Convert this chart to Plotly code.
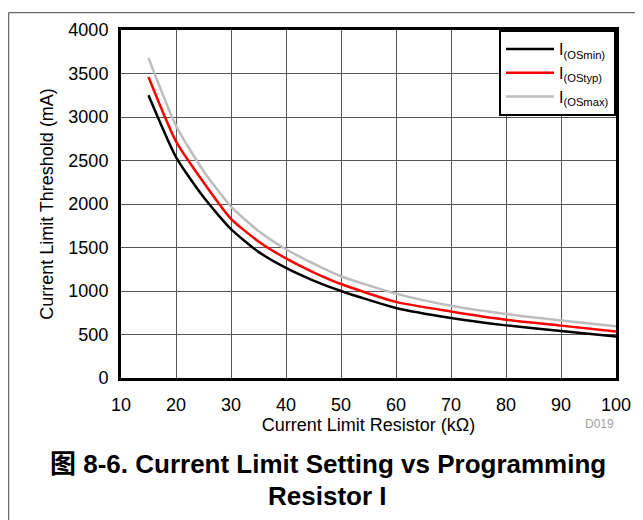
import plotly.graph_objects as go

# Data
resistor_k = [15, 20, 25, 30, 35, 40, 45, 50, 60, 70, 80, 90, 100]
i_os_min = [3250, 2540, 2080, 1710, 1450, 1265, 1120, 1000, 805, 690, 605, 540, 478]
i_os_typ = [3460, 2720, 2250, 1830, 1570, 1375, 1215, 1080, 875, 765, 670, 602, 534]
i_os_max = [3680, 2900, 2380, 1970, 1690, 1480, 1315, 1170, 970, 830, 735, 660, 594]

series_names = ["I<sub>(OSmin)</sub>", "I<sub>(OStyp)</sub>", "I<sub>(OSmax)</sub>"]
series_colors = ["#000000", "#ff0000", "#bdbdbd"]
x_ticks = [10, 20, 30, 40, 50, 60, 70, 80, 90, 100]
y_ticks = [0, 500, 1000, 1500, 2000, 2500, 3000, 3500, 4000]

# the page adds an 8px body margin, so the figure is sized to fit the window
W, H = 635, 512
ML, MR, MT, MB = 113, 26, 18, 142
PW, PH = W - ML - MR, H - MT - MB

def px_x(p):
    return (p - ML) / PW

def px_y(p):
    return (H - MB - p) / PH

FONT = "Liberation Sans, Arial, sans-serif"

fig = go.Figure()
for vals, name, col in zip([i_os_min, i_os_typ, i_os_max], series_names, series_colors):
    fig.add_trace(go.Scatter(
        x=resistor_k, y=vals, name=name, mode="lines",
        line=dict(color=col, width=2.5, shape="spline", smoothing=0.6),
    ))

fig.update_layout(
    width=W, height=H,
    margin=dict(l=ML, r=MR, t=MT, b=MB),
    paper_bgcolor="white", plot_bgcolor="white",
    font=dict(family=FONT, size=18, color="black"),
    showlegend=True,
    legend=dict(
        x=1, y=1, xanchor="right", yanchor="top",
        bgcolor="white", bordercolor="black", borderwidth=2,
        font=dict(family=FONT, size=16, color="black"),
        tracegroupgap=0, itemwidth=48,
    ),
    xaxis=dict(
        range=[10, 100], tickvals=x_ticks,
        showline=True, linecolor="black", linewidth=3, mirror=True,
        showgrid=True, gridcolor="#555555", gridwidth=1.2,
        zeroline=False, ticks="", ticklabelstandoff=8,
        title=dict(text="Current Limit Resistor (kΩ)", standoff=0,
                   font=dict(family=FONT, size=18)),
    ),
    yaxis=dict(
        range=[0, 4000], tickvals=y_ticks,
        showline=True, linecolor="black", linewidth=3, mirror=True,
        showgrid=True, gridcolor="#555555", gridwidth=1.2,
        zeroline=False, ticks="", ticklabelstandoff=6,
        title=dict(text="Current Limit Threshold (mA)", standoff=11,
                   font=dict(family=FONT, size=18)),
    ),
)

# outer frame of the figure
fig.add_shape(type="rect", xref="paper", yref="paper",
              x0=px_x(0.5), x1=px_x(660), y0=px_y(540), y1=px_y(0.5),
              line=dict(color="#444444", width=1), layer="below")

fig.add_annotation(text="D019", xref="paper", yref="paper",
                   x=1, y=px_y(417), xanchor="right", yanchor="middle",
                   showarrow=False, font=dict(family=FONT, size=12, color="#a0a0a0"))

TFONT = "Liberation Sans, Noto Sans CJK SC, sans-serif"
fig.add_annotation(text="<b>图 8-6. Current Limit Setting vs Programming</b>",
                   xref="paper", yref="paper", x=px_x(320), y=px_y(457),
                   xanchor="center", yanchor="middle", showarrow=False,
                   font=dict(family=TFONT, size=26, color="black"))
fig.add_annotation(text="<b>Resistor I</b>",
                   xref="paper", yref="paper", x=px_x(320), y=px_y(489),
                   xanchor="center", yanchor="middle", showarrow=False,
                   font=dict(family=TFONT, size=26, color="black"))

fig.write_html("out.html")
